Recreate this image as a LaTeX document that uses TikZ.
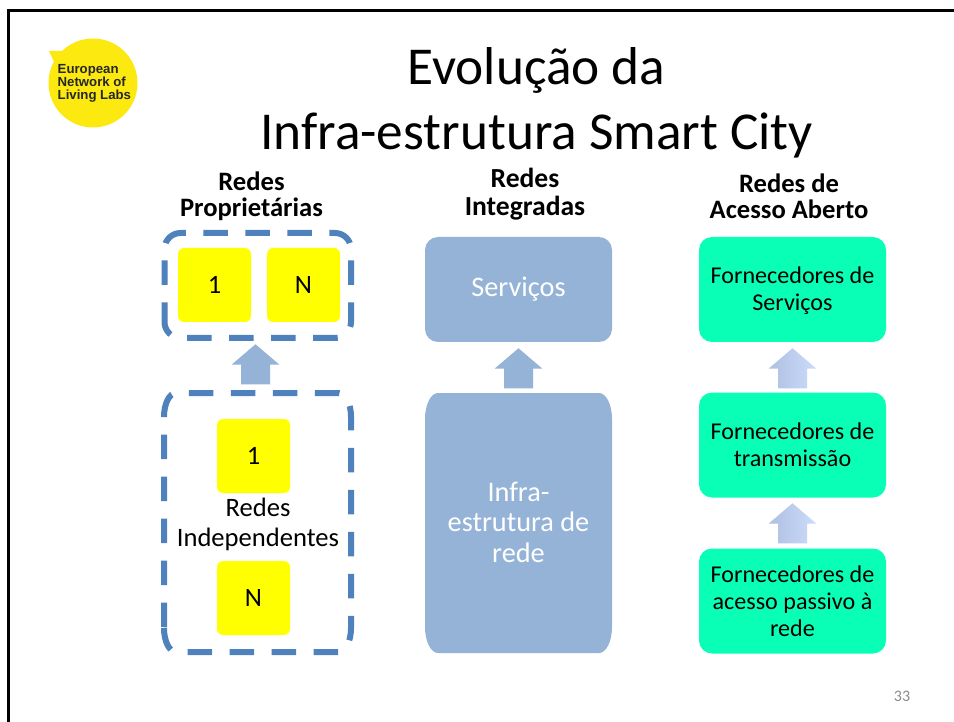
\documentclass[tikz,border=0pt]{standalone}
\usepackage{fontspec}
\setmainfont{Carlito}
\newfontfamily\logofont{Liberation Sans}
\usetikzlibrary{shapes.arrows}
\definecolor{dashblue}{HTML}{4F81BD}
\definecolor{softblue}{HTML}{95B3D7}
\definecolor{mint}{HTML}{0AFFB6}
\definecolor{logoyellow}{HTML}{FBE90F}
\definecolor{boxyellow}{RGB}{255,255,0}
\definecolor{arrowlight}{HTML}{CBDCFB}
\definecolor{arrowdark}{HTML}{AEBFE0}
\newcommand{\shaftrule}{\rule{0pt}{28.6pt}}
\tikzset{
  yellowbox/.style={fill=boxyellow,rounded corners=6pt,minimum width=73pt,minimum height=74pt,inner sep=0pt,font=\fontsize{26.5}{30}\selectfont},
  dashline/.style={draw=dashblue,line width=6pt,dash pattern=on 24.5pt off 17.5pt},
  bluebox/.style={rounded corners=13pt,minimum width=187pt,inner sep=0pt,text=white,text width=170pt,align=flush center,font=\fontsize{28.3}{30.5}\selectfont},
  greenbox/.style={fill=mint,rounded corners=13pt,minimum width=187pt,minimum height=105pt,inner sep=0pt,text width=180pt,align=flush center,font=\fontsize{24.1}{27}\selectfont},
  head/.style={align=center,font=\bfseries\fontsize{26.6}{26}\selectfont},
  blockarrow/.style={shape=single arrow,rotate=90,anchor=tip,minimum height=40pt,minimum width=47pt,single arrow head extend=9.2pt,single arrow head indent=0pt,single arrow tip angle=99,inner sep=0pt},
  softarrow/.style={blockarrow,left color=arrowdark,right color=arrowlight},
}
\begin{document}
\begin{tikzpicture}[x=1pt,y=-1pt]
\useasboundingbox (0,0) rectangle (954,722);
\fill[white] (0,0) rectangle (954,722);
\draw[line width=2.6pt,black] (8.7,722) -- (8.7,10.3) -- (954,10.3);
% logo
\fill[logoyellow] (93,83) circle (44.5);
\fill[logoyellow] (49,51) -- (66,51) -- (55,64) -- cycle;
\node[align=left,inner sep=0pt,anchor=west,text=black!85,font=\logofont\bfseries\fontsize{13.2}{12.7}\selectfont] (logo) at (57.5,83.5) {European\\Network of\\Living Labs};
% title
\node[align=center,inner sep=0pt,font=\fontsize{53.3}{65}\selectfont] (title) at (536.5,102.5) {Evolução da\\Infra-estrutura Smart City};
% headers
\node[head] (h1) at (251.5,196.5) {Redes\\Proprietárias};
\node[head,font=\bfseries\fontsize{27.6}{28}\selectfont] (h2) at (525,194.5) {Redes\\Integradas};
\node[head] (h3) at (789,196) {Redes de\\Acesso Aberto};
% left column
\draw[dashline,dash phase=5pt] (164.5,322) -- (164.5,249) .. controls (164.5,240.2) and (171.7,233) .. (180.5,233) -- (335,233) .. controls (343.8,233) and (351,240.2) .. (351,249) -- (351,322) .. controls (351,330.8) and (343.8,338) .. (335,338) -- (180.5,338) .. controls (171.7,338) and (164.5,330.8) .. (164.5,322) -- cycle;
\node[yellowbox] (a1) at (214.5,285) {1};
\node[yellowbox] (aN) at (303.5,285) {N};
\draw[dashline,dash phase=41pt] (164,628) -- (164,417) .. controls (164,403.7) and (169.4,393) .. (176,393) -- (339,393) .. controls (345.6,393) and (351,403.7) .. (351,417) -- (351,628) .. controls (351,641.3) and (345.6,652) .. (339,652) -- (176,652) .. controls (169.4,652) and (164,641.3) .. (164,628) -- cycle;
\node[yellowbox] (b1) at (253.5,456) {1};
\node[yellowbox] (bN) at (253.5,598) {N};
\node[align=center,inner sep=0pt,font=\fontsize{26.6}{30}\selectfont] (ind) at (258,524) {Redes\\Independentes};
\node[blockarrow,fill=softblue] (arr1) at (255.5,344) {\shaftrule};
% middle column
\node[bluebox,fill=softblue,minimum height=105pt] (serv) at (518.5,289.5) {\raisebox{-1pt}{Serviços}};
\fill[softblue] (425,419) .. controls (425,404.6) and (430.8,393) .. (438,393) -- (599,393) .. controls (606.2,393) and (612,404.6) .. (612,419) -- (612,627) .. controls (612,641.4) and (606.2,653) .. (599,653) -- (438,653) .. controls (430.8,653) and (425,641.4) .. (425,627) -- cycle;
\node[bluebox,minimum height=260pt] (infra) at (518.5,522) {Infra-\\estrutura de\\rede};
\node[blockarrow,fill=softblue] (arr2) at (518.5,348) {\shaftrule};
% right column
\node[greenbox] (g1) at (792.5,289.5) {\rule{0pt}{19.6pt}Fornecedores de\\Serviços};
\node[greenbox] (g2) at (792.5,445) {Fornecedores de\\transmissão\\[13pt]};
\node[greenbox] (g3) at (792.5,601) {Fornecedores de\\acesso passivo à\\rede\\[2pt]};
\node[softarrow] (arr3) at (792.5,348) {\shaftrule};
\node[softarrow] (arr4) at (792.5,503) {\shaftrule};
\node[text=black!45,inner sep=0pt,font=\fontsize{16}{19}\selectfont] (page) at (902,696) {33};
\end{tikzpicture}
\end{document}
